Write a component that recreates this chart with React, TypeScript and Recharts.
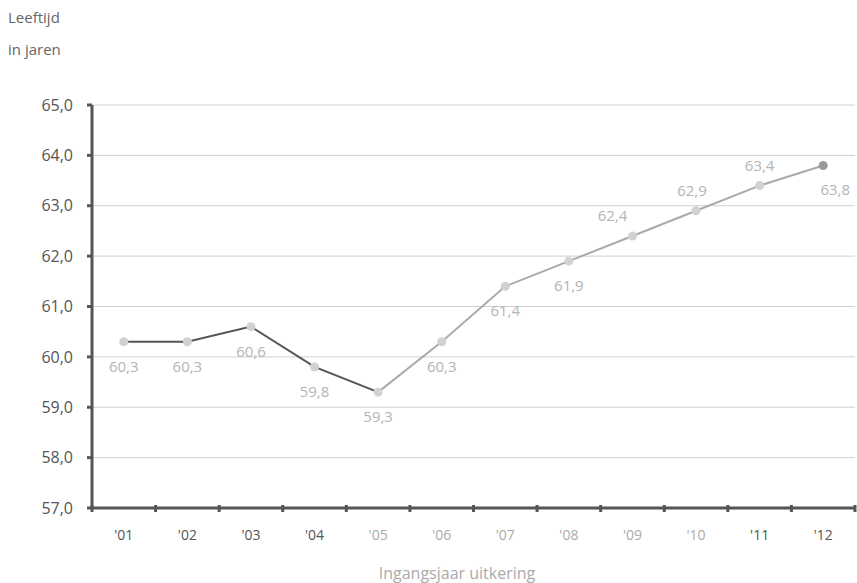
import { LineChart, Line, XAxis, YAxis, CartesianGrid, LabelList } from 'recharts';

const years = ["'01", "'02", "'03", "'04", "'05", "'06", "'07", "'08", "'09", "'10", "'11", "'12"];
const ages = [60.3, 60.3, 60.6, 59.8, 59.3, 60.3, 61.4, 61.9, 62.4, 62.9, 63.4, 63.8];
const yTicks = [57, 58, 59, 60, 61, 62, 63, 64, 65];
// index where the dark line hands over to the light one
const splitAt = 4;

const data = years.map((year, i) => ({
  year,
  age: ages[i],
  early: i <= splitAt ? ages[i] : null,
  late: i >= splitAt ? ages[i] : null,
}));

const W = 857;
const H = 583;
const LEFT = 92;
const RIGHT = 2;
const band = (W - LEFT - RIGHT) / years.length;

const FONT = '"Open Sans", "DejaVu Sans", sans-serif';
const DARK = '#555';
const LIGHT = '#b4b4b4';

const fmt = (v: number) => v.toFixed(1).replace('.', ',');

const XTick = (props: any) => {
  const { x, y, payload, index } = props;
  const light = index >= 4 && index <= 9;
  const last = index === years.length - 1;
  return (
    <g>
      <line x1={x - band / 2} x2={x - band / 2} y1={y - 3} y2={y + 4} stroke={DARK} strokeWidth={3} />
      {last && <line x1={x + band / 2} x2={x + band / 2} y1={y - 3} y2={y + 4} stroke={DARK} strokeWidth={3} />}
      <text x={x} y={y + 32} textAnchor="middle" fontSize={14} fontFamily={FONT} fill={light ? '#aaa' : DARK}>
        {payload.value}
      </text>
    </g>
  );
};

const labelAbove = (i: number) => i >= 8 && i <= 10;
const labelDx = (i: number) => (i === 8 ? -20 : i === 11 ? 12 : i === 9 ? -4 : 0);

const PointLabel = (props: any) => {
  const { x, y, value, index } = props;
  const above = labelAbove(index);
  return (
    <text
      x={x + labelDx(index)}
      y={above ? y - 15 : y + 30}
      textAnchor="middle"
      fontSize={15}
      fontFamily={FONT}
      fill={LIGHT}
    >
      {fmt(value)}
    </text>
  );
};

const Dot = (props: any) => {
  const { cx, cy, index } = props;
  if (cx == null || cy == null) return null;
  return <circle cx={cx} cy={cy} r={4.5} fill={index === years.length - 1 ? '#999' : '#d2d2d2'} />;
};

export default function App() {
  return (
    <div style={{ position: 'absolute', left: 0, top: 0, width: W, height: H, background: '#fff' }}>
      <svg width={W} height={H} style={{ position: 'absolute', left: 0, top: 0 }}>
        <text x={8} y={23} fontSize={15} fontFamily={FONT} fill="#666">Leeftijd</text>
        <text x={8} y={55} fontSize={15} fontFamily={FONT} fill="#666">in jaren</text>
        <text x={457} y={579} textAnchor="middle" fontSize={16} fontFamily={FONT} fill="#aaa">
          Ingangsjaar uitkering
        </text>
      </svg>
      <div style={{ position: 'absolute', left: 0, top: 0 }}>
        <LineChart width={W} height={H} data={data} margin={{ top: 105, right: RIGHT, bottom: 35, left: 0 }}>
          <CartesianGrid vertical={false} stroke="#cfcfcf" />
          <XAxis
            dataKey="year"
            axisLine={{ stroke: DARK, strokeWidth: 3 }}
            tickLine={false}
            tickSize={0}
            tickMargin={0}
            height={40}
            interval={0}
            padding={{ left: band / 2, right: band / 2 }}
            tick={<XTick />}
          />
          <YAxis
            domain={[57, 65]}
            ticks={yTicks}
            width={LEFT}
            tickFormatter={fmt}
            axisLine={{ stroke: DARK, strokeWidth: 3 }}
            tickLine={{ stroke: DARK, strokeWidth: 3 }}
            tickSize={5}
            tickMargin={14}
            tick={{ fontSize: 16, fontFamily: FONT, fill: DARK }}
          />
          <Line dataKey="early" stroke={DARK} strokeWidth={2} dot={false} isAnimationActive={false} connectNulls={false} />
          <Line dataKey="late" stroke="#aaa" strokeWidth={2} dot={false} isAnimationActive={false} connectNulls={false} />
          <Line dataKey="age" stroke="none" dot={<Dot />} activeDot={false} isAnimationActive={false}>
            <LabelList dataKey="age" content={<PointLabel />} />
          </Line>
        </LineChart>
      </div>
    </div>
  );
}
